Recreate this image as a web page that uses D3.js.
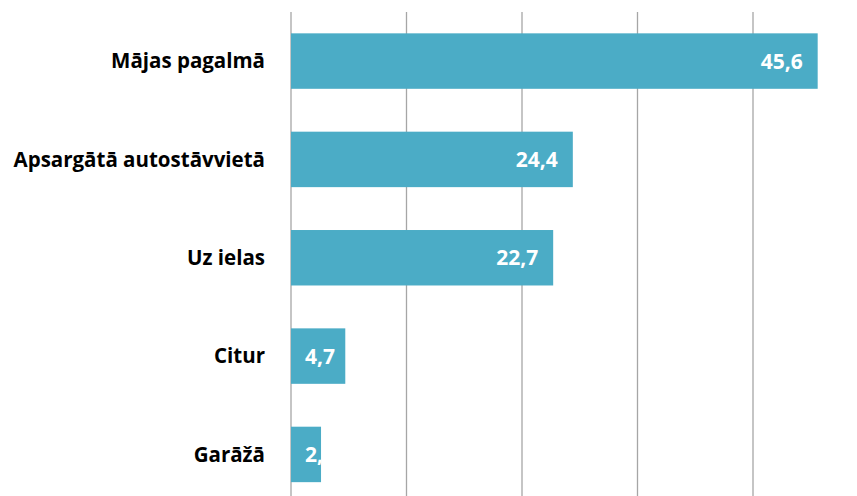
<!DOCTYPE html>
<html>
<head>
<meta charset="utf-8">
<script src="https://cdn.jsdelivr.net/npm/d3@7"></script>
<style>
  body { margin: 0; background: #fff; }
  svg { display: block; font-family: "Open Sans", "Noto Sans", sans-serif; }
</style>
</head>
<body>
<div id="chart"></div>
<script>
// data
var categories = ["Mājas pagalmā", "Apsargātā autostāvvietā", "Uz ielas", "Citur", "Garāžā"];
var values = [45.6, 24.4, 22.7, 4.7, 2.6];
var gridTicks = [0, 10, 20, 30, 40, 50];

var width = 857, height = 496;
var margin = {left: 291, top: 12, right: -11.5, bottom: 0};

var svg = d3.select("#chart").append("svg")
  .attr("width", width)
  .attr("height", height);

var x = d3.scaleLinear()
  .domain([0, 50])
  .range([margin.left, width - margin.right]);

var y = d3.scaleBand()
  .domain(categories)
  .range([11.9, 503.6])
  .paddingInner(0.436)
  .paddingOuter(0.218);

// gridlines
svg.append("g").attr("class", "grid")
  .selectAll("line")
  .data(gridTicks)
  .enter().append("line")
  .attr("x1", function(d){ return x(d); })
  .attr("x2", function(d){ return x(d); })
  .attr("y1", margin.top)
  .attr("y2", height)
  .attr("stroke", "#a6a6a6")
  .attr("stroke-width", 1.3);

// clip each bar so labels don't overflow
var defs = svg.append("defs");
defs.selectAll("clipPath")
  .data(values)
  .enter().append("clipPath")
  .attr("id", function(d, i){ return "clip" + i; })
  .append("rect")
  .attr("x", x(0))
  .attr("y", function(d, i){ return y(categories[i]); })
  .attr("width", function(d){ return x(d) - x(0); })
  .attr("height", y.bandwidth());

// bars
svg.append("g").attr("class", "bars")
  .selectAll("rect")
  .data(values)
  .enter().append("rect")
  .attr("x", x(0))
  .attr("y", function(d, i){ return y(categories[i]); })
  .attr("width", function(d){ return x(d) - x(0); })
  .attr("height", y.bandwidth())
  .attr("fill", "#4bacc6");

// value labels (inside end, but never left of bar start)
var labels = svg.append("g").attr("class", "values")
  .selectAll("text")
  .data(values)
  .enter().append("text")
  .attr("clip-path", function(d, i){ return "url(#clip" + i + ")"; })
  .attr("y", function(d, i){ return y(categories[i]) + y.bandwidth() / 2; })
  .attr("dy", "0.36em")
  .attr("fill", "#fff")
  .attr("font-weight", "bold")
  .attr("font-size", "21px")
  .text(function(d){ return d.toFixed(1).replace(".", ","); });

labels.each(function(d){
  var w = this.getComputedTextLength();
  var left = Math.max(x(d) - 15 - w, x(0) + 14);
  d3.select(this).attr("x", left);
});

// category labels
svg.append("g").attr("class", "cats")
  .selectAll("text")
  .data(categories)
  .enter().append("text")
  .attr("x", 265)
  .attr("y", function(d){ return y(d) + y.bandwidth() / 2; })
  .attr("dy", "0.36em")
  .attr("text-anchor", "end")
  .attr("fill", "#000")
  .attr("font-weight", "bold")
  .attr("font-size", "20.5px")
  .text(function(d){ return d; });
</script>
</body>
</html>
